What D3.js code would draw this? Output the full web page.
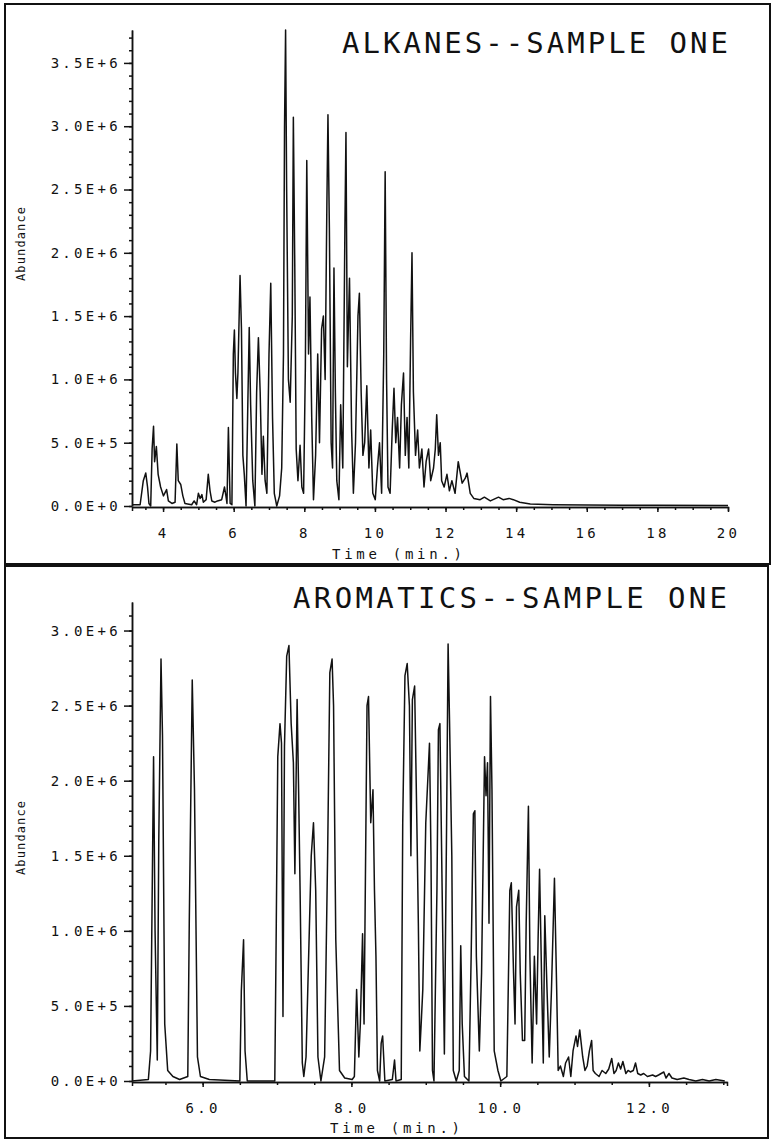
<!DOCTYPE html>
<html>
<head>
<meta charset="utf-8">
<script src="https://cdn.jsdelivr.net/npm/d3@7"></script>
<style>
  body { margin: 0; background: #fff; }
  text { font-family: "DejaVu Sans Mono", monospace; fill: #111; font-feature-settings: "zero" 1; }
  .tick text { font-size: 14px; letter-spacing: 3.3px; }
  .domain, .tick line { stroke: #111; stroke-width: 1.5; }
  .trace { fill: none; stroke: #111; stroke-width: 1.5; stroke-linejoin: round; }
</style>
</head>
<body>
<svg id="chart" width="775" height="1147"></svg>
<script>
// time (min.), abundance (millions)
const alkanes = [
  [3.12,0.01],[3.35,0.01],[3.44,0.2],[3.51,0.26],[3.56,0.15],[3.60,0.02],[3.65,0.0],[3.69,0.45],[3.73,0.63],[3.76,0.35],
  [3.81,0.47],[3.86,0.25],[3.93,0.15],[4.01,0.08],[4.10,0.13],[4.15,0.04],[4.25,0.02],[4.34,0.03],[4.39,0.49],[4.43,0.2],
  [4.50,0.17],[4.56,0.08],[4.62,0.02],[4.81,0.01],[4.88,0.04],[4.95,0.01],[5.00,0.1],[5.05,0.06],[5.10,0.09],[5.14,0.03],
  [5.22,0.05],[5.28,0.25],[5.33,0.12],[5.38,0.04],[5.47,0.03],[5.54,0.04],[5.66,0.05],[5.74,0.15],[5.78,0.08],[5.81,0.02],
  [5.85,0.62],[5.90,0.02],[5.95,0.01],[5.99,1.2],[6.02,1.39],[6.05,1.05],[6.09,0.85],[6.12,1.05],[6.18,1.82],[6.22,1.4],
  [6.26,0.4],[6.30,0.25],[6.35,0.0],[6.40,0.8],[6.44,1.41],[6.48,0.8],[6.54,0.2],[6.60,0.0],[6.65,0.9],[6.70,1.33],
  [6.75,0.9],[6.80,0.25],[6.84,0.55],[6.89,0.2],[6.94,0.1],[7.00,1.2],[7.05,1.76],[7.10,0.7],[7.15,0.1],[7.22,0.0],
  [7.30,0.08],[7.36,0.3],[7.41,1.2],[7.44,3.0],[7.47,3.76],[7.50,2.5],[7.55,1.0],[7.60,0.82],[7.66,1.5],[7.69,3.07],
  [7.73,1.9],[7.77,0.45],[7.82,0.2],[7.88,0.48],[7.93,0.15],[7.98,0.1],[8.03,1.1],[8.07,2.73],[8.12,1.2],[8.16,1.65],
  [8.21,0.7],[8.26,0.05],[8.32,0.4],[8.38,1.2],[8.43,0.5],[8.49,1.4],[8.54,1.5],[8.59,1.0],[8.64,2.4],[8.67,3.09],
  [8.71,2.2],[8.76,0.5],[8.80,0.3],[8.84,1.88],[8.88,0.9],[8.92,0.2],[8.98,0.05],[9.03,0.8],[9.09,0.3],[9.15,2.2],
  [9.18,2.95],[9.22,1.1],[9.28,1.8],[9.34,0.6],[9.39,0.1],[9.45,0.5],[9.52,1.5],[9.56,1.68],[9.61,0.9],[9.66,0.4],
  [9.71,0.5],[9.77,0.95],[9.83,0.3],[9.88,0.6],[9.94,0.1],[10.01,0.05],[10.07,0.3],[10.13,0.5],[10.19,0.1],[10.25,1.2],
  [10.29,2.64],[10.33,1.0],[10.37,0.15],[10.43,0.1],[10.49,0.6],[10.54,0.93],[10.59,0.5],[10.64,0.7],[10.70,0.3],[10.75,0.8],
  [10.81,1.05],[10.86,0.4],[10.91,0.7],[10.96,0.3],[11.01,1.3],[11.05,2.0],[11.09,0.9],[11.15,0.4],[11.21,0.6],[11.26,0.3],
  [11.33,0.45],[11.39,0.15],[11.45,0.35],[11.52,0.45],[11.58,0.2],[11.66,0.3],[11.71,0.45],[11.75,0.72],[11.80,0.4],[11.85,0.5],
  [11.89,0.2],[11.96,0.15],[12.04,0.25],[12.11,0.12],[12.18,0.2],[12.27,0.1],[12.36,0.35],[12.47,0.18],[12.56,0.22],[12.61,0.26],
  [12.70,0.1],[12.80,0.06],[12.98,0.05],[13.10,0.07],[13.27,0.04],[13.50,0.07],[13.63,0.05],[13.80,0.06],[13.92,0.05],[14.10,0.03],
  [14.40,0.015],[15.05,0.01],[16.0,0.008],[17.0,0.006],[18.0,0.005],[20.0,0.004]
];

const aromatics = [
  [5.05,0.0],[5.27,0.01],[5.30,0.2],[5.32,1.18],[5.34,2.16],[5.36,1.0],[5.39,0.14],[5.41,1.6],[5.44,2.81],[5.46,2.3],
  [5.49,0.38],[5.53,0.07],[5.60,0.03],[5.69,0.01],[5.80,0.03],[5.82,1.05],[5.86,2.67],[5.89,1.94],[5.93,0.16],[5.97,0.03],
  [6.09,0.01],[6.50,0.0],[6.52,0.6],[6.55,0.94],[6.57,0.2],[6.60,0.0],[6.97,0.0],[6.99,1.05],[7.01,2.16],[7.04,2.38],
  [7.06,2.25],[7.08,0.43],[7.10,2.23],[7.13,2.83],[7.16,2.9],[7.19,2.38],[7.22,2.12],[7.24,1.38],[7.27,2.54],[7.29,1.94],
  [7.31,1.27],[7.34,0.12],[7.36,0.03],[7.39,0.16],[7.46,1.5],[7.49,1.72],[7.52,1.27],[7.55,0.16],[7.59,0.0],[7.64,0.16],
  [7.68,1.5],[7.71,2.72],[7.74,2.81],[7.76,2.5],[7.79,0.94],[7.84,0.07],[7.91,0.02],[8.01,0.01],[8.04,0.03],[8.07,0.61],
  [8.10,0.16],[8.12,0.38],[8.15,0.98],[8.17,0.38],[8.21,2.5],[8.23,2.56],[8.26,1.72],[8.29,1.94],[8.31,1.27],[8.33,0.83],
  [8.35,0.07],[8.38,0.0],[8.40,0.25],[8.42,0.3],[8.45,0.0],[8.55,0.01],[8.58,0.14],[8.60,0.0],[8.67,0.01],[8.69,1.72],
  [8.72,2.7],[8.75,2.78],[8.78,2.5],[8.80,1.5],[8.82,2.54],[8.85,2.63],[8.88,1.72],[8.90,1.05],[8.92,0.2],[8.94,0.4],
  [8.96,0.61],[9.00,1.72],[9.05,2.25],[9.07,1.5],[9.09,0.07],[9.11,0.0],[9.15,1.27],[9.17,2.34],[9.19,2.38],[9.22,1.27],
  [9.25,0.18],[9.28,1.72],[9.30,2.91],[9.32,2.38],[9.35,1.5],[9.37,0.07],[9.41,0.0],[9.45,0.07],[9.47,0.9],[9.49,0.38],
  [9.52,0.03],[9.58,0.0],[9.61,0.83],[9.64,1.78],[9.66,1.8],[9.68,0.83],[9.72,0.2],[9.75,0.72],[9.79,2.16],[9.81,1.9],
  [9.83,2.12],[9.85,1.05],[9.87,2.56],[9.89,1.94],[9.92,0.2],[9.97,0.07],[10.01,0.0],[10.09,0.03],[10.13,1.27],[10.15,1.32],
  [10.18,0.72],[10.20,0.38],[10.22,1.16],[10.25,1.27],[10.27,0.72],[10.30,0.27],[10.33,0.27],[10.35,1.05],[10.38,1.83],[10.40,0.83],
  [10.43,0.12],[10.46,0.83],[10.49,0.38],[10.51,0.94],[10.53,1.41],[10.56,0.61],[10.58,0.12],[10.60,1.1],[10.63,0.61],[10.66,0.16],
  [10.69,0.61],[10.73,1.35],[10.76,0.61],[10.78,0.07],[10.81,0.1],[10.85,0.03],[10.88,0.12],[10.92,0.16],[10.95,0.03],[10.98,0.2],
  [11.02,0.3],[11.04,0.23],[11.07,0.34],[11.11,0.16],[11.14,0.07],[11.17,0.1],[11.20,0.2],[11.23,0.27],[11.25,0.07],[11.28,0.05],
  [11.33,0.03],[11.37,0.07],[11.42,0.05],[11.46,0.08],[11.50,0.15],[11.53,0.05],[11.56,0.07],[11.59,0.12],[11.62,0.08],[11.65,0.13],
  [11.69,0.05],[11.72,0.07],[11.75,0.06],[11.79,0.07],[11.82,0.12],[11.85,0.05],[11.89,0.04],[11.93,0.05],[11.98,0.03],[12.05,0.04],
  [12.09,0.03],[12.13,0.04],[12.20,0.06],[12.23,0.02],[12.27,0.05],[12.31,0.02],[12.38,0.01],[12.47,0.02],[12.54,0.01],[12.63,0.0],
  [12.72,0.01],[12.81,0.0],[12.90,0.01],[13.02,0.0]
];

const alkTimeTicks = [4, 6, 8, 10, 12, 14, 16, 18, 20];
const alkAbundTicks = [0, 0.5, 1.0, 1.5, 2.0, 2.5, 3.0, 3.5];
const aroTimeTicks = [6, 8, 10, 12];
const aroAbundTicks = [0, 0.5, 1.0, 1.5, 2.0, 2.5, 3.0];

const svg = d3.select("#chart");

// 3.5 -> "3.5E+6", 0.5 -> "5.0E+5"
function sciFmt(v) {
  if (v === 0) return "0.0E+0";
  if (v < 1) return (v * 10).toFixed(1) + "E+5";
  return v.toFixed(1) + "E+6";
}

function drawPanel(p) {
  svg.append("rect")
    .attr("x", p.box[0]).attr("y", p.box[1])
    .attr("width", p.box[2] - p.box[0]).attr("height", p.box[3] - p.box[1])
    .attr("fill", "none").attr("stroke", "#111").attr("stroke-width", 2);

  var x = d3.scaleLinear().domain(p.xDomain).range([132, p.xRight]);
  var y = d3.scaleLinear().domain(p.yDomain).range([p.y0, p.yTop]);

  var line = d3.line()
    .x((d) => x(d[0]))
    .y((d) => y(d[1]));

  svg.append("path")
    .datum(p.data)
    .attr("class", "trace")
    .attr("d", line);

  // Y axis, minor then major
  svg.append("g")
    .attr("transform", "translate(132,0)")
    .call(d3.axisLeft(y).tickValues(d3.range(0, p.yDomain[1], 0.1)).tickSize(3).tickSizeOuter(0).tickFormat(""));
  svg.append("g")
    .attr("transform", "translate(132,0)")
    .call(d3.axisLeft(y).tickValues(p.yTicks).tickSize(8).tickPadding(3).tickSizeOuter(0).tickFormat(sciFmt))
    .attr("font-family", null).attr("font-size", null);

  // X axis
  svg.append("g")
    .attr("transform", "translate(0," + (p.y0 + 1) + ")")
    .call(d3.axisBottom(x).tickValues(d3.range(Math.ceil(p.xDomain[0] * 2) / 2, p.xDomain[1], 0.5)).tickSize(3).tickSizeOuter(0).tickFormat(""));
  svg.append("g")
    .attr("transform", "translate(0," + (p.y0 + 1) + ")")
    .call(d3.axisBottom(x).tickValues(p.xTicks).tickSize(5).tickPadding(16).tickSizeOuter(4).tickFormat(p.xFmt))
    .attr("font-family", null).attr("font-size", null);

  svg.append("text")
    .attr("x", p.title[1]).attr("y", p.title[2])
    .attr("font-size", 29)
    .attr("textLength", p.title[3]).attr("lengthAdjust", "spacing")
    .text(p.title[0]);

  svg.append("text")
    .attr("x", p.xLabel[0]).attr("y", p.xLabel[1])
    .attr("font-size", 14)
    .attr("textLength", 130).attr("lengthAdjust", "spacing")
    .text("Time (min.)");

  svg.append("text")
    .attr("transform", "translate(25," + p.yLabelY + ") rotate(-90)")
    .attr("text-anchor", "middle")
    .attr("font-size", 12)
    .attr("textLength", 74).attr("lengthAdjust", "spacing")
    .text("Abundance");
}

drawPanel({
  box: [5, 4, 770, 564],
  data: alkanes,
  xDomain: [3.12, 20], xRight: 728,
  yDomain: [0, 3.76], y0: 506, yTop: 30,
  xTicks: alkTimeTicks, yTicks: alkAbundTicks,
  xFmt: d3.format("d"),
  title: ["ALKANES--SAMPLE ONE", 342, 53, 386],
  xLabel: [332, 559],
  yLabelY: 244
});

drawPanel({
  box: [5, 566, 768, 1138],
  data: aromatics,
  xDomain: [5.05, 13.05], xRight: 727,
  yDomain: [0, 3.19], y0: 1081, yTop: 602,
  xTicks: aroTimeTicks, yTicks: aroAbundTicks,
  xFmt: d3.format(".1f"),
  title: ["AROMATICS--SAMPLE ONE", 293, 608, 434],
  xLabel: [330, 1133],
  yLabelY: 838
});
</script>
</body>
</html>
